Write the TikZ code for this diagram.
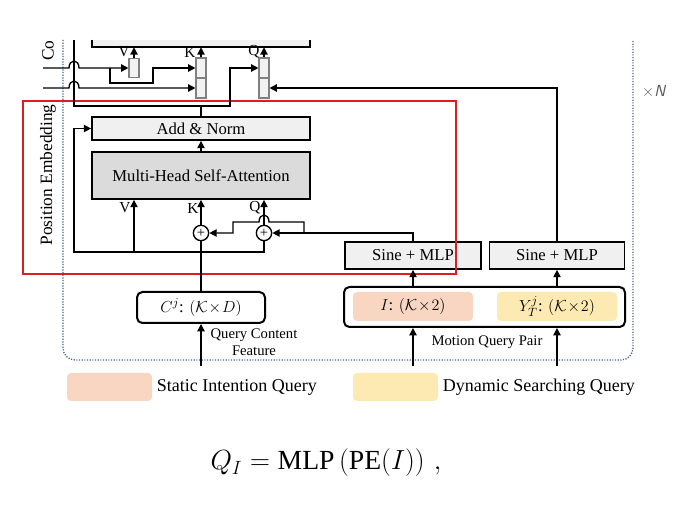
\documentclass[tikz,border=0pt]{standalone}
\usepackage{fontspec}
\setmainfont{Liberation Serif}
\usetikzlibrary{arrows.meta}
\definecolor{intent}{RGB}{248,214,194}
\definecolor{search}{RGB}{253,234,178}
\definecolor{frameblue}{RGB}{70,96,145}
\definecolor{hlred}{RGB}{222,30,30}
\begin{document}
\begin{tikzpicture}[x=0.75pt,y=-0.75pt,>={Triangle[length=5.5pt,width=5.5pt]},
        wire/.style={line width=1pt},
        blk/.style={draw,line width=1.3pt,fill=gray!12,inner sep=0pt,font=\fontsize{12.5}{14}\selectfont},
        bar/.style={draw=gray,line width=0.8pt,fill=gray!10,inner sep=0pt,minimum width=7.5pt,minimum height=15pt},
        plus/.style={circle,draw,line width=1pt,fill=white,inner sep=0pt,minimum size=11.5pt,font=\fontsize{11}{11}\selectfont},
        inbox/.style={draw,line width=1.5pt,rounded corners=4pt,inner sep=0pt,font=\fontsize{12.5}{14}\selectfont},
        tint/.style={rounded corners=3pt,inner sep=0pt,minimum width=90pt,minimum height=21.75pt,font=\fontsize{12.5}{14}\selectfont},
        lbl/.style={inner sep=0pt,font=\fontsize{11.5}{13}\selectfont},
        note/.style={inner sep=0pt,font=\fontsize{11}{13}\selectfont,align=center}]
        \useasboundingbox (0,0) rectangle (693,513);
        % layer frame and highlighted block
        \draw[frameblue,line width=1pt,dash pattern=on 0.9pt off 1.1pt,rounded corners=9pt] (63,40) -- (63,360) -- (633,360) -- (633,40);
        \node[text=gray!70!black,inner sep=0pt,font=\fontsize{12}{14}\selectfont] (times) at (654,92) {$\times$\textsf{\itshape N}};
        \node[rotate=90,inner sep=0pt,font=\fontsize{13}{15}\selectfont] (posemb) at (48,175) {Position Embedding};
        \node[rotate=90,anchor=west,inner sep=0pt,font=\fontsize{13}{15}\selectfont] (cont) at (48,61) {Co};
        % previous attention block (cut off)
        \node[fill=gray!12,inner sep=0pt,minimum width=163.5pt,minimum height=5.25pt] (prev) at (201,43.5) {};
        \draw[line width=1.3pt] (prev.north west) |- (prev.south east) -- (prev.north east);
        \node[bar,minimum height=14.25pt] (vbar) at (134,68) {};
        \node[bar] (kup) at (201,68) {};
        \node[bar] (klow) at (201,88) {};
        \node[bar] (qup) at (264,68) {};
        \node[bar] (qlow) at (264,88) {};
        \node[lbl] (vt) at (124,52) {V};
        \node[lbl] (kt) at (190,52) {K};
        \node[lbl] (qt) at (254,52) {Q};
        % self-attention layer
        \node[blk,minimum width=163.5pt,minimum height=17.25pt] (addnorm) at (201,128.5) {Add \& Norm};
        \node[blk,fill=gray!28,minimum width=163.5pt,minimum height=35.25pt] (mhsa) at (201,175.5) {Multi-Head Self-Attention};
        \node[lbl] (vb) at (125,208) {V};
        \node[lbl] (kb) at (193,208) {K};
        \node[lbl] (qb) at (255,208) {Q};
        \node[plus] (kplus) at (201,233) {+};
        \node[plus] (qplus) at (264,233) {+};
        \node[blk,minimum width=102pt,minimum height=20.25pt] (sine1) at (413,255.5) {Sine + MLP};
        \node[blk,minimum width=101.25pt,minimum height=20.25pt] (sine2) at (557,255.5) {Sine + MLP};
        % queries
        \node[inbox,minimum width=96pt,minimum height=23.25pt] (cbox) at (201,307.5) {$C^{j}$: $(\mathcal{K}\!\times\! D)$};
        \node[inbox,minimum width=210.75pt,minimum height=30pt] (mqp) at (484.5,307) {};
        \node[tint,fill=intent] (ibox) at (413,306.5) {$I$: $(\mathcal{K}\!\times\! 2)$};
        \node[tint,fill=search] (ybox) at (557,306.5) {$Y_{T}^{j}$: $(\mathcal{K}\!\times\! 2)$};
        \node[note] (cnote) at (254,342) {Query Content\\Feature};
        \node[note] (mnote) at (487,342) {Motion Query Pair};
        \draw[hlred,line width=1.1pt] (23,101) rectangle (456,274);
        % connectors
        \coordinate (inA) at (43,68);
        \coordinate (inB) at (43,88);
        \coordinate (res) at (74,252);
        \coordinate (pesplit) at (304,233);
        \coordinate (cin) at (201,366);
        \draw[wire,->] (inA) -- (69,68) to[out=90,in=90,looseness=2.4] (79,68) -- (vbar.west);
        \draw[wire,->] (110,68) |- (153,83) |- (kup.west);
        \draw[wire,->] (inB) -- (69,88) to[out=90,in=90,looseness=2.4] (79,88) -- (klow.west);
        \draw[wire] (addnorm.north) -- (201,106) -| (74,40);
        \draw[wire,->] (201,106) -| (230,68) -- (qup.west);
        \draw[wire,->] (sine2.north) |- (qlow.east);
        \draw[wire,->] (vbar.north) -- (vbar.north |- prev.south);
        \draw[wire,->] (kup.north) -- (kup.north |- prev.south);
        \draw[wire,->] (qup.north) -- (qup.north |- prev.south);
        \draw[wire,->] (mhsa.north) -- (addnorm.south);
        \draw[wire] (cbox.north) -- (kplus.south);
        \draw[wire,->] (kplus |- res) -- (res) |- (addnorm.west);
        \draw[wire] (kplus |- res) -| (qplus.south);
        \draw[wire,->] (vbar |- res) -- (vbar |- mhsa.south);
        \draw[wire,->] (kplus.north) -- (kplus |- mhsa.south);
        \draw[wire,->] (qplus.north) -- (qplus |- mhsa.south);
        \draw[wire,->] (sine1.north) |- (qplus.east);
        \draw[wire,->] (pesplit) -- (304,222) -- (269,222) to[out=90,in=90,looseness=2.4] (259,222) -| (233,233) -- (kplus.east);
        \draw[wire,->] (ibox |- mqp.north) -- (sine1.south);
        \draw[wire,->] (ybox |- mqp.north) -- (sine2.south);
        \draw[wire,->] (cin) -- (cbox.south);
        \draw[wire,->] (ibox |- cin) -- (ibox |- mqp.south);
        \draw[wire,->] (ybox |- cin) -- (ybox |- mqp.south);
        % legend and formula
        \node[fill=intent,rounded corners=3pt,minimum width=63.75pt,minimum height=21pt] (leg1) at (109.5,387) {};
        \node[anchor=west,font=\fontsize{13.5}{16}\selectfont] (leg1t) at (leg1.east) {Static Intention Query};
        \node[fill=search,rounded corners=3pt,minimum width=63.75pt,minimum height=21pt] (leg2) at (395.5,387) {};
        \node[anchor=west,font=\fontsize{13.5}{16}\selectfont] (leg2t) at (leg2.east) {Dynamic Searching Query};
        \node[font=\huge] (eq) at (326,463) {$Q_I = \mathrm{MLP}\left(\mathrm{PE}(I)\right)\,,$};
    \end{tikzpicture}
\end{document}
